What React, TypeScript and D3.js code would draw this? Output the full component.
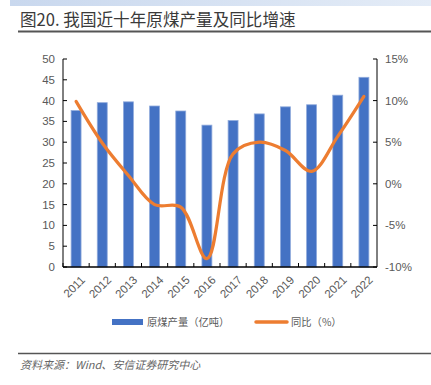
import React from "react";
import * as d3 from "d3";

const years = ["2011","2012","2013","2014","2015","2016","2017","2018","2019","2020","2021","2022"];
const output = [37.6, 39.5, 39.7, 38.7, 37.5, 34.1, 35.2, 36.8, 38.5, 39.0, 41.3, 45.6];
const yoy = [9.9, 4.9, 1.0, -2.5, -2.8, -9.0, 3.6, 5.0, 4.0, 1.5, 5.7, 10.5];
const leftTicks = [0, 5, 10, 15, 20, 25, 30, 35, 40, 45, 50];
const rightTicks = [-10, -5, 0, 5, 10, 15];

export default function App() {
  const W = 431, H = 385;
  const x0 = 63, x1 = 377, yTop = 59, yBot = 267;
  const x = d3.scaleBand().domain(years).range([x0, x1]).paddingInner(0.62).paddingOuter(0.31);
  const band = d3.scaleBand().domain(years).range([x0, x1]);
  const yL = d3.scaleLinear().domain([0, 50]).range([yBot, yTop]);
  const yR = d3.scaleLinear().domain([-10, 15]).range([yBot, yTop]);
  const line = d3.line<number>()
    .x((_, i) => (band(years[i]) as number) + band.bandwidth() / 2)
    .y((d) => yR(d))
    .curve(d3.curveCatmullRom.alpha(0.5));
  const grey = "#595959";
  const font = "Arial, 'Liberation Sans', 'Noto Sans CJK SC', sans-serif";
  const cjk = "'Noto Sans CJK SC', sans-serif";
  return (
    <svg width={W} height={H} style={{ position: "absolute", left: 0, top: 0 }}>
      <defs>
        <linearGradient id="tb" x1="0" x2="1" y1="0" y2="0">
          <stop offset="0" stopColor="#c9d8ee" />
          <stop offset="1" stopColor="#e4ecf7" />
        </linearGradient>
      </defs>
      <rect x={0} y={0} width={W} height={H} fill="#fff" />
      <rect x={10} y={0} width={W - 10} height={6} fill="url(#tb)" />
      <text x={20} y={26} fontFamily={cjk} fontSize={16.6} fill="#3a3a3a" fontWeight={400}>图20. 我国近十年原煤产量及同比增速</text>
      <line x1={18} x2={W} y1={31.5} y2={31.5} stroke="#555" strokeWidth={2} />

      {output.map((v, i) => (
        <rect key={years[i]} x={x(years[i])} y={yL(v)} width={x.bandwidth()} height={yBot - yL(v)}
          fill="#4472C4" stroke="#8faadc" strokeWidth={0.8} />
      ))}

      {/* left axis */}
      <line x1={x0} x2={x0} y1={yTop} y2={yBot} stroke="#000" />
      {leftTicks.map((t) => (
        <g key={t}>
          <line x1={x0} x2={x0 + 4} y1={yL(t)} y2={yL(t)} stroke="#000" />
          <text x={x0 - 8} y={yL(t)} dy="0.35em" textAnchor="end" fontFamily={font} fontSize={11.5} fill={grey}>{t}</text>
        </g>
      ))}
      {/* right axis */}
      <line x1={x1} x2={x1} y1={yTop} y2={yBot} stroke="#000" />
      {rightTicks.map((t) => (
        <g key={t}>
          <line x1={x1 - 4} x2={x1} y1={yR(t)} y2={yR(t)} stroke="#000" />
          <text x={x1 + 8} y={yR(t)} dy="0.35em" textAnchor="start" fontFamily={font} fontSize={11.5} fill={grey}>{t}%</text>
        </g>
      ))}
      {/* x axis */}
      <line x1={x0} x2={x1} y1={yBot} y2={yBot} stroke="#000" strokeWidth={1.5} />
      {years.map((y) => (
        <line key={"t" + y} x1={(band(y) as number)} x2={(band(y) as number)} y1={yBot - 4} y2={yBot} stroke="#000" />
      ))}
      {years.map((y) => {
        const cx = (band(y) as number) + band.bandwidth() / 2 + 4;
        const cy = yBot + 8;
        return (
          <text key={"l" + y} x={cx} y={cy} textAnchor="end" dy="0.7em" transform={`rotate(-45 ${cx} ${cy})`}
            fontFamily={font} fontSize={11.5} fill={grey}>{y}</text>
        );
      })}

      <path d={line(yoy) || ""} fill="none" stroke="#ED7D31" strokeWidth={3.2} strokeLinecap="round" />

      {/* legend */}
      <rect x={112} y={319} width={31} height={6} fill="#4472C4" />
      <text x={147} y={322} dy="0.35em" fontFamily={cjk} fontSize={10.3} fill={grey}>原煤产量（亿吨）</text>
      <line x1={256} x2={287} y1={322} y2={322} stroke="#ED7D31" strokeWidth={3.5} strokeLinecap="round" />
      <text x={291} y={322} dy="0.35em" fontFamily={cjk} fontSize={10.3} fill={grey}>同比（%）</text>

      <line x1={18} x2={W} y1={353.5} y2={353.5} stroke="#555" strokeWidth={1.5} />
      <text x={20} y={369} fontFamily={cjk} fontSize={11} fontStyle="italic" fill="#666">资料来源：Wind、安信证券研究中心</text>
    </svg>
  );
}
